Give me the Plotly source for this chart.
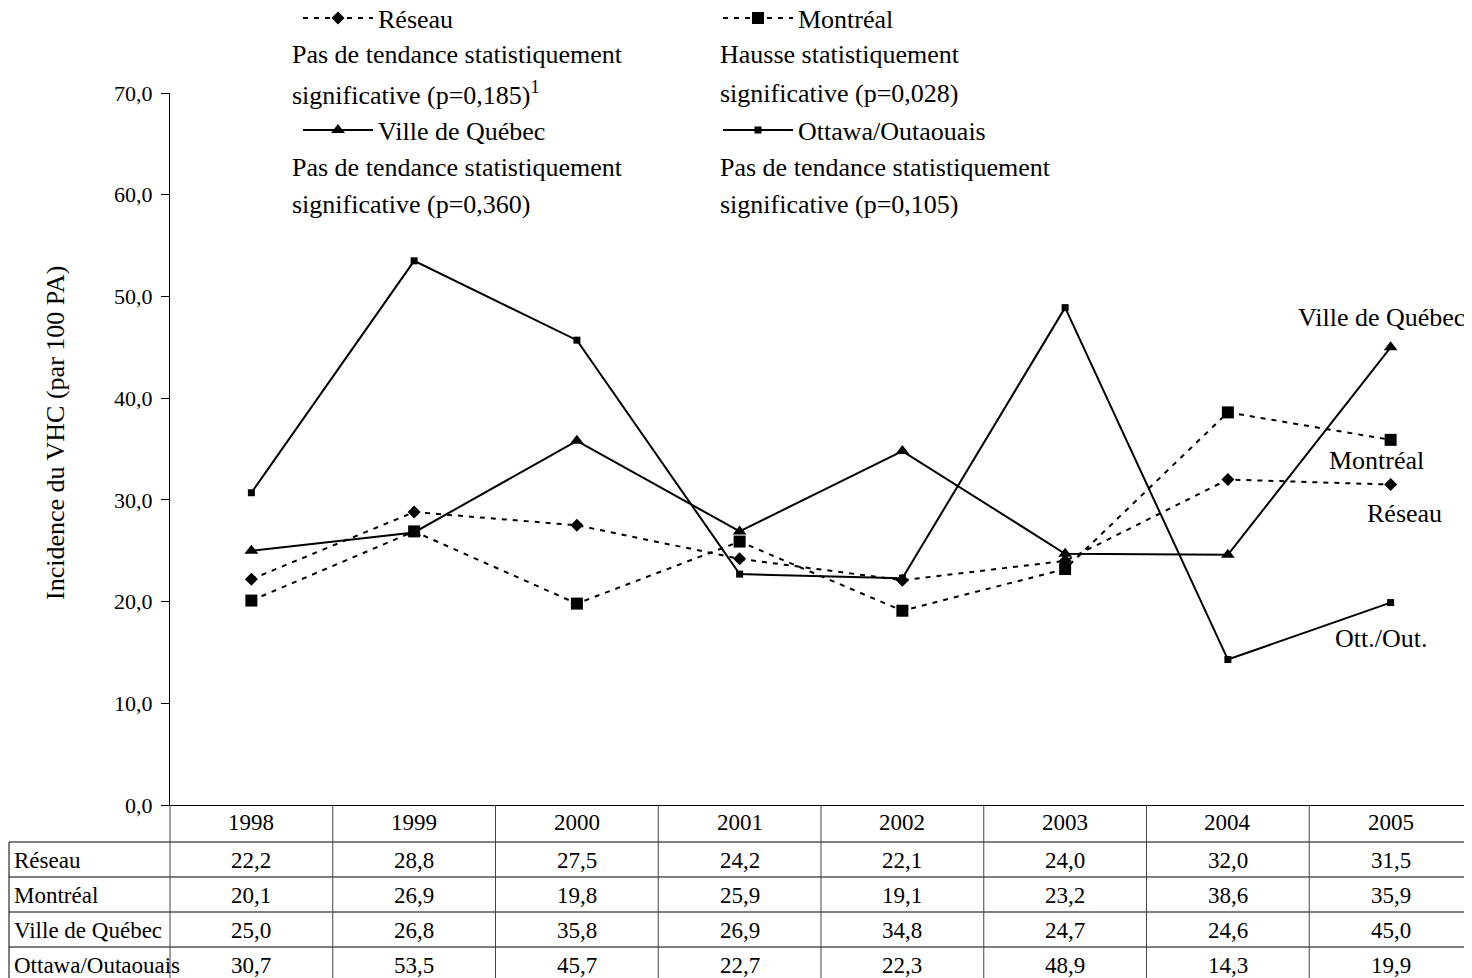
import plotly.graph_objects as go

# ---------------- data ----------------
years = ["1998", "1999", "2000", "2001", "2002", "2003", "2004", "2005"]
series_names = ["Réseau", "Montréal", "Ville de Québec", "Ottawa/Outaouais"]
reseau = [22.2, 28.8, 27.5, 24.2, 22.1, 24.0, 32.0, 31.5]
montreal = [20.1, 26.9, 19.8, 25.9, 19.1, 23.2, 38.6, 35.9]
quebec = [25.0, 26.8, 35.8, 26.9, 34.8, 24.7, 24.6, 45.0]
ottawa = [30.7, 53.5, 45.7, 22.7, 22.3, 48.9, 14.3, 19.9]
end_labels = ["Réseau", "Montréal", "Ville de Québec", "Ott./Out."]
trend_line1 = ["Pas de tendance statistiquement", "Hausse statistiquement",
               "Pas de tendance statistiquement", "Pas de tendance statistiquement"]
trend_line2 = ["significative (p=0,185)<sup>1</sup>", "significative (p=0,028)",
               "significative (p=0,360)", "significative (p=0,105)"]
y_ticks = [0, 10, 20, 30, 40, 50, 60, 70]
y_title = "Incidence du VHC (par 100 PA)"

values = [reseau, montreal, quebec, ottawa]

# ---------------- layout helpers ----------------
# page (screenshot) coordinates; the page body adds an 8px offset
OFF = 8
PW, PH = 1472, 978
W, H = PW - OFF, PH - OFF
PL, PR, PT, PB = 170, 1472, 93, 805          # plot area in page pixels
FONT = "Liberation Serif, Times New Roman, serif"


def px2x(px):
    return (px - PL) / (PR - PL)


def py2y(py):
    return (PB - py) / (PB - PT)


styles = [
    dict(dash="5px,6px", symbol="diamond", size=10),
    dict(dash="5px,6px", symbol="square", size=12),
    dict(dash="solid", symbol="triangle-up", size=12),
    dict(dash="solid", symbol="square", size=7),
]
legend_ids = ["legend", "legend2", "legend3", "legend4"]

fig = go.Figure()
xs = list(range(len(years)))
for name, vals, st, lid in zip(series_names, values, styles, legend_ids):
    fig.add_trace(go.Scatter(
        x=xs, y=vals, name=name, mode="lines+markers",
        line=dict(color="black", width=2, dash=st["dash"]),
        marker=dict(symbol=st["symbol"], size=st["size"], color="black"),
        legend=lid, cliponaxis=False,
    ))

annotations = []
shapes = []

# legends positions (2x2 grid), page pixels of legend left / item centre
ITEM_W = 70
leg_pos = [(378 - ITEM_W - 10, 18), (798 - ITEM_W - 10, 18),
           (378 - ITEM_W - 10, 130), (798 - ITEM_W - 10, 130)]
desc_x = [290, 718, 290, 718]
desc_y = [(55, 93), (55, 93), (167, 204), (167, 204)]
legend_layouts = {}
for lid, (lx, ly) in zip(legend_ids, leg_pos):
    legend_layouts[lid] = dict(
        x=px2x(lx), y=py2y(ly), xanchor="left", yanchor="middle",
        bgcolor="rgba(0,0,0,0)", font=dict(family=FONT, size=26, color="black"),
        itemwidth=ITEM_W,
    )
for i in range(4):
    for txt, cy in zip((trend_line1[i], trend_line2[i]), desc_y[i]):
        annotations.append(dict(
            x=px2x(desc_x[i]), y=py2y(cy), xref="paper", yref="paper",
            xanchor="left", yanchor="middle", text=txt, showarrow=False,
            font=dict(family=FONT, size=26, color="black"),
        ))

# end-of-line labels
end_pos = [(1404, 513), (1376, 460), (1381, 317), (1381, 638)]
for txt, (ex, ey) in zip(end_labels, end_pos):
    annotations.append(dict(
        x=px2x(ex), y=py2y(ey), xref="paper", yref="paper",
        xanchor="center", yanchor="middle", text=txt, showarrow=False,
        font=dict(family=FONT, size=26, color="black"),
    ))

# y-axis title
annotations.append(dict(
    x=px2x(56), y=py2y(433), xref="paper", yref="paper",
    xanchor="center", yanchor="middle", text=y_title, textangle=-90,
    showarrow=False, font=dict(family=FONT, size=26, color="black"),
))

# ---------------- data table ----------------
col_w = (PR - PL) / len(years)
row_lines = [842, 877, 912, 947]
row_centers = [860, 895, 930, 965]
year_center = 823
tfont = dict(family=FONT, size=23, color="black")
for j, yr in enumerate(years):
    cx = PL + col_w * (j + 0.5)
    annotations.append(dict(x=px2x(cx), y=py2y(year_center), xref="paper", yref="paper",
                            text=yr, showarrow=False, xanchor="center", yanchor="middle",
                            font=tfont))
    for r, vals in enumerate(values):
        annotations.append(dict(x=px2x(cx), y=py2y(row_centers[r]), xref="paper", yref="paper",
                                text=f"{vals[j]:.1f}".replace(".", ","), showarrow=False,
                                xanchor="center", yanchor="middle", font=tfont))
for r, name in enumerate(series_names):
    annotations.append(dict(x=px2x(12), y=py2y(row_centers[r]), xref="paper", yref="paper",
                            text=name, showarrow=False, xanchor="left", yanchor="middle",
                            font=tfont))

line_style = dict(color="black", width=1)
# horizontal lines
shapes.append(dict(type="line", xref="paper", yref="paper", x0=px2x(9), x1=px2x(PR),
                   y0=py2y(row_lines[0]), y1=py2y(row_lines[0]), line=line_style))
for yl in row_lines[1:]:
    shapes.append(dict(type="line", xref="paper", yref="paper", x0=px2x(9), x1=px2x(PR),
                       y0=py2y(yl), y1=py2y(yl), line=line_style))
# vertical lines
for j in range(len(years)):
    vx = PL + col_w * j
    shapes.append(dict(type="line", xref="paper", yref="paper", x0=px2x(vx), x1=px2x(vx),
                       y0=py2y(PB), y1=py2y(PH), line=dict(color="#444", width=1)))
shapes.append(dict(type="line", xref="paper", yref="paper", x0=px2x(9), x1=px2x(9),
                   y0=py2y(row_lines[0]), y1=py2y(PH), line=line_style))

fig.update_layout(
    width=W, height=H,
    margin=dict(l=PL - OFF, r=PW - PR, t=PT - OFF, b=PH - PB, pad=0, autoexpand=False),
    paper_bgcolor="white", plot_bgcolor="white",
    separators=", ",
    showlegend=True,
    font=dict(family=FONT, size=22, color="black"),
    xaxis=dict(range=[-0.5, len(years) - 0.5], showticklabels=False, showgrid=False,
               zeroline=False, showline=True, linecolor="black", linewidth=1, ticks=""),
    yaxis=dict(range=[0, 70], tickvals=y_ticks, tickformat=".1f", ticks="outside",
               ticklen=8, tickcolor="black", tickwidth=1, showgrid=False, zeroline=False,
               showline=True, linecolor="black", linewidth=1, ticklabelstandoff=4,
               tickfont=dict(family=FONT, size=22, color="black")),
    annotations=annotations,
    shapes=shapes,
    **legend_layouts,
)

fig.write_html("out.html")
